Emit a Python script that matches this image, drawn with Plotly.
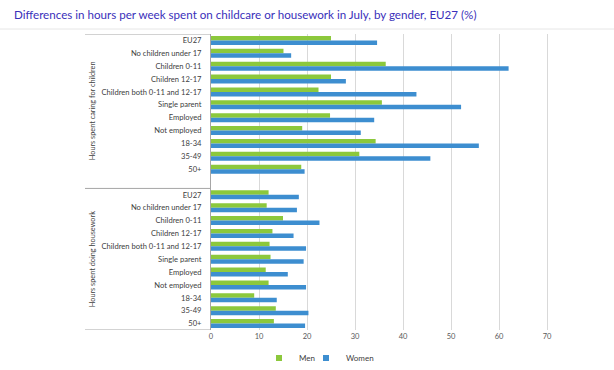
import plotly.graph_objects as go

title = "Differences in hours per week spent on childcare or housework in July, by gender, EU27 (%)"
categories = ["EU27", "No children under 17", "Children 0-11", "Children 12-17",
              "Children both 0-11 and 12-17", "Single parent", "Employed",
              "Not employed", "18-34", "35-49", "50+"]
groups = ["Hours spent caring for children", "Hours spent doing housework"]

care_men = [25.0, 15.1, 36.4, 25.0, 22.4, 35.6, 24.8, 19.0, 34.3, 30.9, 18.8]
care_women = [34.6, 16.7, 62.0, 28.1, 42.8, 52.1, 34.0, 31.2, 55.8, 45.7, 19.5]
house_men = [12.0, 11.6, 15.0, 12.8, 12.2, 12.4, 11.4, 12.0, 9.0, 13.5, 13.1]
house_women = [18.3, 17.9, 22.6, 17.2, 19.8, 19.3, 16.0, 19.8, 13.7, 20.3, 19.6]
x_ticks = [0, 10, 20, 30, 40, 50, 60, 70]

GREEN = "#8CC83C"
BLUE = "#3D8ED0"
FONT = "Lato"
TXT = "#404040"

n = len(categories)
# positions: childcare rows 0..n-1, one blank row, housework rows n+1..2n
pos_care = list(range(n))
pos_house = [n + 1 + i for i in range(n)]
ypos = pos_care + pos_house
men = care_men + house_men
women = care_women + house_women
labels = categories + categories

fig = go.Figure()
fig.add_trace(go.Bar(y=ypos, x=men, orientation="h", name="Men", showlegend=False,
                     marker=dict(color=GREEN, line=dict(width=0))))
fig.add_trace(go.Bar(y=ypos, x=women, orientation="h", name="Women", showlegend=False,
                     marker=dict(color=BLUE, line=dict(width=0))))
# legend entries with small square keys (one legend each, to keep them close)
for nm, col, lg in [("Men", GREEN, "legend"), ("Women", BLUE, "legend2")]:
    fig.add_trace(go.Scatter(x=[None], y=[None], mode="markers", name=nm, legend=lg,
                             marker=dict(symbol="square", size=6, color=col)))

W, H = 614, 370
ml, mr, mt, mb = 211, 19, 34, 40
pw = W - ml - mr
ph = H - mt - mb

def px_x(px):
    return (px - ml) / pw

def px_y(py):
    return (H - mb - py) / ph

leg_common = dict(orientation="h", xanchor="left", y=px_y(358), yanchor="middle",
                  font=dict(family=FONT, size=8, color=TXT), itemwidth=30,
                  bgcolor="rgba(0,0,0,0)")

fig.update_layout(
    width=W, height=H,
    margin=dict(l=ml, r=mr, t=mt, b=mb, autoexpand=False),
    paper_bgcolor="white", plot_bgcolor="white",
    barmode="group", bargap=0.3, bargroupgap=0,
    title=dict(text=title, x=14 / W, xanchor="left", y=1 - 15 / H, yanchor="middle",
               font=dict(family=FONT, size=11.6, color="#3A30BA")),
    font=dict(family=FONT, size=8, color=TXT),
    showlegend=True,
    legend=dict(x=px_x(259), **leg_common),
    legend2=dict(x=px_x(306), **leg_common),
    xaxis=dict(range=[0, 80], tickvals=x_ticks, showgrid=True, gridcolor="#D9D9D9",
               gridwidth=1, zeroline=False, showline=False, ticks="", automargin=False,
               tickfont=dict(family=FONT, size=7.5, color="#595959")),
    yaxis=dict(range=[2 * n + 0.5, -0.5], tickvals=ypos, ticktext=labels,
               showgrid=False, zeroline=False, showline=True, linecolor="#A6A6A6",
               linewidth=1, ticks="", ticklabelstandoff=7, automargin=False,
               tickfont=dict(family=FONT, size=7.6, color=TXT)),
)

line_col = "#A6A6A6"
# category group boundary lines (left of plot)
for yv in [-0.5, n + 0.5, 2 * n + 0.5]:
    fig.add_shape(type="line", xref="paper", yref="y", x0=px_x(85), x1=0,
                  y0=yv, y1=yv, line=dict(color=line_col, width=1))
# top faint chart line
fig.add_shape(type="line", xref="paper", yref="paper", x0=px_x(0), x1=px_x(W),
              y0=px_y(29), y1=px_y(29), line=dict(color="#E6E6E6", width=1))

# group labels
group_centers = [(0 + n) / 2, (n + 1 + 2 * n) / 2]
for g, c in zip(groups, group_centers):
    fig.add_annotation(text=g, xref="paper", yref="y", x=px_x(92), y=c,
                       textangle=-90, showarrow=False, xanchor="center", yanchor="middle",
                       font=dict(family=FONT, size=7.3, color=TXT))

fig.write_html("out.html", config={"displayModeBar": False},
               post_script="document.body.style.margin='0';document.body.style.padding='0';")
